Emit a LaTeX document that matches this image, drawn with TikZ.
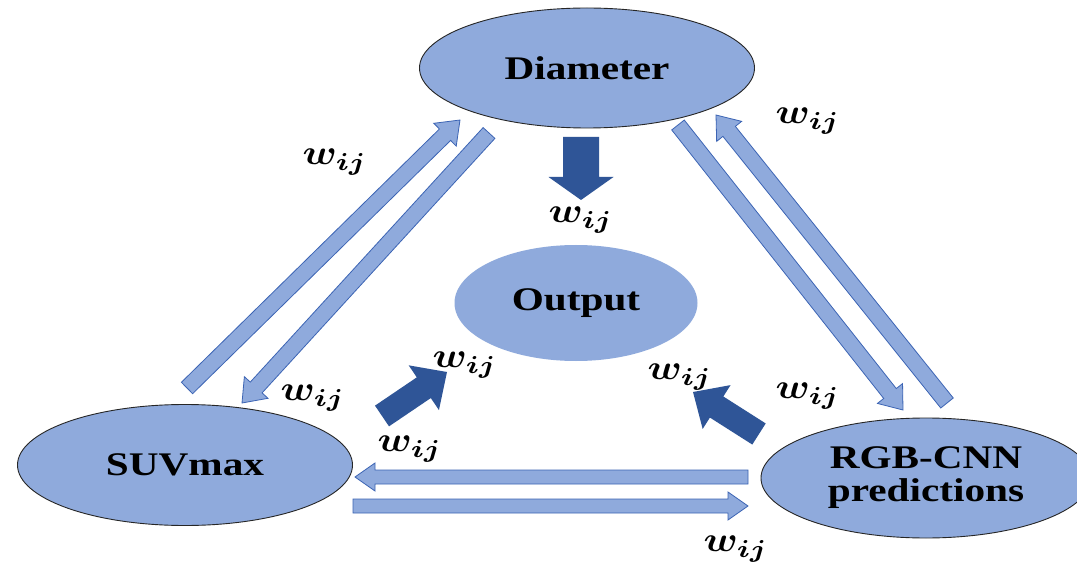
\documentclass[tikz,border=0pt]{standalone}
\usepackage{fontspec}
\setmainfont{Liberation Serif}
\usepackage{graphicx}
\usepackage{bm}
\usetikzlibrary{shapes.geometric,calc}
\definecolor{ellfill}{RGB}{143,170,220}
\definecolor{darkarrow}{RGB}{47,85,151}
\definecolor{arrowline}{RGB}{60,100,180}
\tikzset{
  ell/.style={ellipse, fill=ellfill, draw=black!85, line width=0.9pt, inner sep=0pt,
    font=\fontsize{33}{33}\selectfont\bfseries, align=center},
  hollow/.style={fill=ellfill, draw=arrowline, line width=0.8pt, line join=miter},
  solidarrow/.style={fill=darkarrow, draw=none},
  wlabel/.style={inner sep=0pt},
}
\newcommand{\wij}{\scalebox{4.0}[3.5]{$\bm{w_{ij}}$}}
\newcommand{\txt}[1]{\scalebox{1.25}[1]{#1}}
\newcommand{\blockarrow}[6]{%
  \coordinate (#2-#3-h) at ($(#3)!#6!(#2)$);
  \path[#1] ($(#2)!#4!90:(#3)$) -- ($(#2-#3-h)!#4!-90:(#2)$) -- ($(#2-#3-h)!#5!-90:(#2)$)
    -- (#3) -- ($(#2-#3-h)!#5!90:(#2)$) -- ($(#2-#3-h)!#4!90:(#2)$) -- ($(#2)!#4!-90:(#3)$) -- cycle;}
\begin{document}
\begin{tikzpicture}[x=1pt,y=-1pt]
\clip (0,0) rectangle (1077,564);
\fill[white] (0,0) rectangle (1077,564);
% ellipses
\node[ell, minimum width=335pt, minimum height=120pt] (dia) at (587,68) {\txt{Diameter}};
\node[ell, draw=none, minimum width=243pt, minimum height=116pt] (out) at (576,303) {\txt{Output}};
\node[ell, minimum width=335pt, minimum height=121pt] (suv) at (185,465) {\txt{SUVmax}};
\node[ell, minimum width=330pt, minimum height=120pt] (rgb) at (926,478) {\txt{RGB-CNN}\\[0pt]\txt{predictions}};
% arrow end points
\coordinate (lu1) at (187,388); \coordinate (lu2) at (460,120);
\coordinate (ld1) at (489,133); \coordinate (ld2) at (242,403);
\coordinate (rd1) at (678,125); \coordinate (rd2) at (903,410);
\coordinate (ru1) at (947,403); \coordinate (ru2) at (716,115);
\coordinate (bl1) at (748,477); \coordinate (bl2) at (355,477);
\coordinate (br1) at (353,506); \coordinate (br2) at (748,506);
\coordinate (dd1) at (581,137); \coordinate (dd2) at (581,200);
\coordinate (dl1) at (382,416); \coordinate (dl2) at (447,372);
\coordinate (dr1) at (759,434); \coordinate (dr2) at (693,392);
% hollow arrows
\blockarrow{hollow}{lu1}{lu2}{8pt}{16pt}{21pt}
\blockarrow{hollow}{ld1}{ld2}{8pt}{16pt}{21pt}
\blockarrow{hollow}{rd1}{rd2}{8pt}{16pt}{21pt}
\blockarrow{hollow}{ru1}{ru2}{8pt}{16pt}{21pt}
\blockarrow{hollow}{bl1}{bl2}{7pt}{14pt}{20pt}
\blockarrow{hollow}{br1}{br2}{7pt}{14pt}{20pt}
% dark arrows
\blockarrow{solidarrow}{dd1}{dd2}{18pt}{32.5pt}{23pt}
\blockarrow{solidarrow}{dl1}{dl2}{12.5pt}{27pt}{28pt}
\blockarrow{solidarrow}{dr1}{dr2}{12.5pt}{26pt}{28pt}
% labels
\node[wlabel] (w1) at (335,162) {\wij};
\node[wlabel] (w2) at (808,121) {\wij};
\node[wlabel] (w3) at (581,220) {\wij};
\node[wlabel] (w4) at (313,398) {\wij};
\node[wlabel] (w5) at (465,365) {\wij};
\node[wlabel] (w6) at (680,377) {\wij};
\node[wlabel] (w7) at (808,396) {\wij};
\node[wlabel] (w8) at (410,449) {\wij};
\node[wlabel] (w9) at (736,549) {\wij};
\end{tikzpicture}
\end{document}
